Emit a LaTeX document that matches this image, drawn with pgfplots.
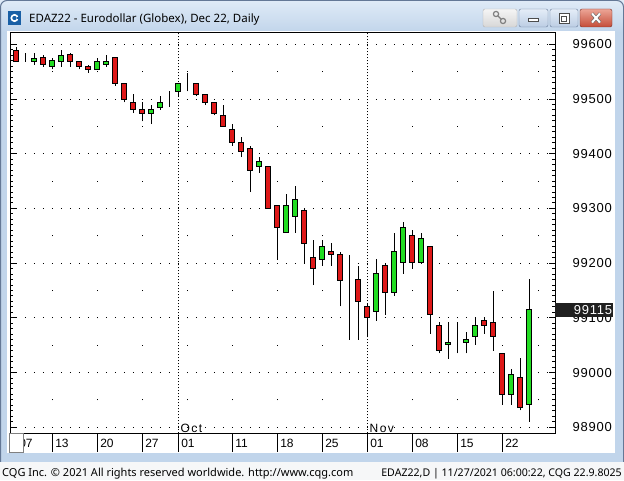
\documentclass[border=0pt]{standalone}
\usepackage{pgfplots}
\pgfplotsset{compat=1.18}
\usepackage{pgfplotstable}
\usepackage{fontspec}
\setmainfont{Liberation Sans}
\newfontfamily\uifont{Noto Sans}
\newfontfamily\ylabfont[LetterSpace=6]{Liberation Sans}
\newfontfamily\monfont[LetterSpace=12]{Liberation Sans}

\definecolor{cred}{RGB}{222,24,24}
\definecolor{cgreen}{RGB}{34,221,34}
\definecolor{winblue}{RGB}{193,213,235}
\definecolor{wintop}{RGB}{224,235,247}
\definecolor{winedge}{RGB}{100,120,150}
\definecolor{footbg}{RGB}{246,247,248}
\definecolor{btntop}{RGB}{228,237,247}
\definecolor{btnbot}{RGB}{188,205,228}
\definecolor{btnedge}{RGB}{105,125,155}
\definecolor{closetop}{RGB}{236,165,150}
\definecolor{closebot}{RGB}{196,76,56}
\definecolor{closeedge}{RGB}{120,45,35}
\definecolor{pintop}{RGB}{245,245,245}
\definecolor{pinbot}{RGB}{215,215,215}
\definecolor{iconblue}{RGB}{25,95,165}
\definecolor{boxgray}{RGB}{32,32,32}

\pgfplotstableread{
i o h l c
0 99589 99595 99568 99568
1 99568 99584 99568 99568
2 99568 99584 99563 99574
3 99575 99581 99559 99563
4 99559 99575 99554 99570
5 99568 99590 99559 99580
6 99581 99584 99559 99568
7 99568 99568 99554 99559
8 99560 99563 99548 99554
9 99554 99575 99554 99568
10 99563 99581 99559 99568
11 99575 99575 99524 99529
12 99529 99529 99494 99500
13 99494 99509 99474 99480
14 99480 99494 99459 99474
15 99474 99489 99454 99480
16 99485 99505 99480 99494
17 99505 99514 99485 99505
18 99514 99529 99505 99529
19 99529 99548 99514 99529
20 99529 99529 99505 99509
21 99509 99509 99489 99494
22 99494 99494 99470 99474
23 99470 99489 99450 99450
24 99445 99455 99415 99420
25 99420 99431 99394 99404
26 99410 99415 99330 99370
27 99376 99394 99365 99385
28 99376 99376 99299 99299
29 99305 99305 99206 99265
30 99256 99326 99256 99305
31 99285 99341 99256 99316
32 99296 99299 99201 99236
33 99210 99242 99160 99190
34 99206 99242 99195 99230
35 99221 99236 99195 99215
36 99215 99221 99121 99169
37 99150 99215 99060 99150
38 99171 99195 99060 99129
39 99121 99127 99066 99100
40 99111 99207 99095 99181
41 99195 99201 99106 99146
42 99146 99256 99140 99221
43 99201 99276 99181 99265
44 99250 99261 99190 99201
45 99201 99256 99201 99245
46 99230 99230 99071 99106
47 99086 99092 99035 99040
48 99051 99092 99025 99055
49 99061 99092 99035 99061
50 99055 99075 99035 99061
51 99066 99100 99051 99086
52 99095 99100 99071 99086
53 99092 99150 99040 99066
54 99035 99035 98941 98960
55 98960 99006 98941 98997
56 98991 99026 98931 98937
57 98941 99171 98910 99115
}\ohlc

\begin{document}
\begin{tikzpicture}[x=1pt,y=1pt]
\useasboundingbox (0,0) rectangle (624,480);
% window chrome
\fill[winblue] (0,0) rectangle (624,480);
\shade[top color=wintop, bottom color=winblue] (0,448) rectangle (624,480);
\draw[winedge, line width=1pt] (0.5,18) -- (0.5,473) arc[start angle=180, end angle=90, radius=6.5] -- (617,479.5) arc[start angle=90, end angle=0, radius=6.5] -- (623.5,18);
\fill[footbg] (0,0) rectangle (624,18.3);
\fill[white] (7.3,26.7) rectangle (615,448.5);
% title icon and text
\fill[iconblue] (8,455) rectangle (21,469);
\draw[white, line width=1.6pt] (14.5,462) circle (3.2pt);
\fill[iconblue] (16.5,461) rectangle (19,463);
\node[anchor=base west, inner sep=0pt, font=\uifont\fontsize{11.5}{13}\selectfont] at (29,457.5) {EDAZ22 - Eurodollar (Globex), Dec 22, Daily};
% buttons
\shade[top color=pintop, bottom color=pinbot, draw=gray!60, rounded corners=2pt] (483,453) rectangle (517,471);
\draw[gray, line width=1.2pt] (496,466) circle (2.6pt);
\draw[gray, line width=1.2pt] (503,459) circle (2.6pt);
\draw[gray, line width=1.2pt] (497.8,464.2) -- (501.2,460.8);
\shade[top color=btntop, bottom color=btnbot, draw=btnedge, rounded corners=2pt] (519,453) rectangle (548,471);
\draw[black!70, fill=white, line width=0.8pt] (528.5,458.5) rectangle (538.5,461.5);
\shade[top color=btntop, bottom color=btnbot, draw=btnedge, rounded corners=2pt] (550,453) rectangle (578,471);
\draw[black!70, fill=white, line width=0.8pt] (559,456.5) rectangle (569,466.5);
\draw[black!70, line width=0.8pt] (561.5,459) rectangle (566.5,463.5);
\shade[top color=closetop, bottom color=closebot, draw=closeedge, rounded corners=2pt] (580,453) rectangle (612,471);
\draw[black!60, line width=3.2pt] (592,457.5) -- (600,466.5) (592,466.5) -- (600,457.5);
\draw[white, line width=2pt] (592,457.5) -- (600,466.5) (592,466.5) -- (600,457.5);

% axis 1: frame, grid, ticks, wicks
\begin{axis}[
  at={(10pt,46.7pt)}, anchor=south west,
  scale only axis, width=545pt, height=400.3pt,
  xmin=-0.7, xmax=59.86, ymin=98889, ymax=99620.7,
  axis line style={black, line width=1pt},
  xtick={4,9,14,19,24,29,34,44,49,54,58},
  xticklabels={},
  xtick style={draw=none},
  xmajorgrids,
  x grid style={black, line width=1pt, dash pattern=on 1pt off 26.354pt, dash phase=21.84pt},
  ytick={98900,99000,99100,99200,99300,99400,99500,99600},
  yticklabels={98900,99000,99100,99200,99300,99400,99500,99600},
  scaled y ticks=false,
  ymajorgrids,
  y grid style={black, line width=1pt, dash pattern=on 1pt off 8pt, dash phase=3.2pt},
  minor y tick num=9,
  ytick pos=both, yticklabel pos=right,
  tick align=inside,
  major tick length=6pt, minor tick length=3pt,
  ytick style={black, line width=1pt},
  yticklabel style={anchor=east, xshift=57pt, inner sep=0pt, font=\ylabfont\fontsize{13}{13}\selectfont},
]
\addplot[black, line width=1pt, dash pattern=on 1pt off 2pt] coordinates {(18,98889) (18,99620.7)};
\addplot[black, line width=1pt, dash pattern=on 1pt off 2pt] coordinates {(39,98889) (39,99620.7)};
\addplot[draw=none, no markers, error bars/.cd, y dir=plus, y explicit, error mark=none,
  error bar style={black, line width=1pt}]
  table[x=i, y=l, y error plus expr={\thisrow{h}-\thisrow{l}}] {\ohlc};
\coordinate (lastp) at (axis cs:59.86,99115);
\coordinate (octp) at (axis cs:18,98889);
\coordinate (novp) at (axis cs:39,98889);
\end{axis}

% axis 2: bodies and date labels
\begin{axis}[
  at={(10pt,46.7pt)}, anchor=south west,
  scale only axis, width=545pt, height=400.3pt,
  xmin=-0.7, xmax=59.86, ymin=98889, ymax=99620.7,
  ybar stacked, bar width=4.6pt,
  axis line style={draw=none},
  ytick=\empty,
  xtick={0,4,9,14,18,24,29,34,39,44,49,54},
  xticklabels={07,13,20,27,01,11,18,25,01,08,15,22},
  xtick pos=left, tick align=outside,
  major tick length=18.5pt,
  xtick style={black, line width=1pt},
  xticklabel style={anchor=north west, inner sep=0pt, xshift=2.8pt, font=\fontsize{12}{12}\selectfont},
  xticklabel shift=-12.5pt,
]
\addplot[draw=none, fill=none] table[x=i, y expr={min(\thisrow{o},\thisrow{c})}] {\ohlc};
\addplot[fill=cred, draw=black, line width=1pt] table[x=i, y expr={max(\thisrow{o}-\thisrow{c},0)}] {\ohlc};
\addplot[fill=cgreen, draw=black, line width=1pt] table[x=i, y expr={max(\thisrow{c}-\thisrow{o},0)}] {\ohlc};
\end{axis}

% month labels
\node[anchor=base west, inner sep=0pt, font=\monfont\fontsize{12}{12}\selectfont] at ([xshift=2.2pt, yshift=1pt]octp) {Oct};
\node[anchor=base west, inner sep=0pt, font=\monfont\fontsize{12}{12}\selectfont] at ([xshift=2.2pt, yshift=1pt]novp) {Nov};
% last price box
\node[anchor=west, fill=boxgray, text=white, minimum height=14pt, inner xsep=1pt, inner ysep=0pt, text width=56pt, align=right, font=\ylabfont\fontsize{13}{13}\selectfont] at (lastp) {99115};
% small box at lower left
\draw[gray, fill=white, line width=1pt] (9.8,27.2) rectangle (23.3,46.7);
% footer
\node[anchor=base west, inner sep=0pt, font=\uifont\fontsize{11}{11}\selectfont] at (2,4) {CQG Inc. © 2021 All rights reserved worldwide. http://www.cqg.com};
\node[anchor=base east, inner sep=0pt, font=\uifont\fontsize{10.6}{11}\selectfont] at (622,4) {EDAZ22,D | 11/27/2021 06:00:22, CQG 22.9.8025};
\end{tikzpicture}
\end{document}
